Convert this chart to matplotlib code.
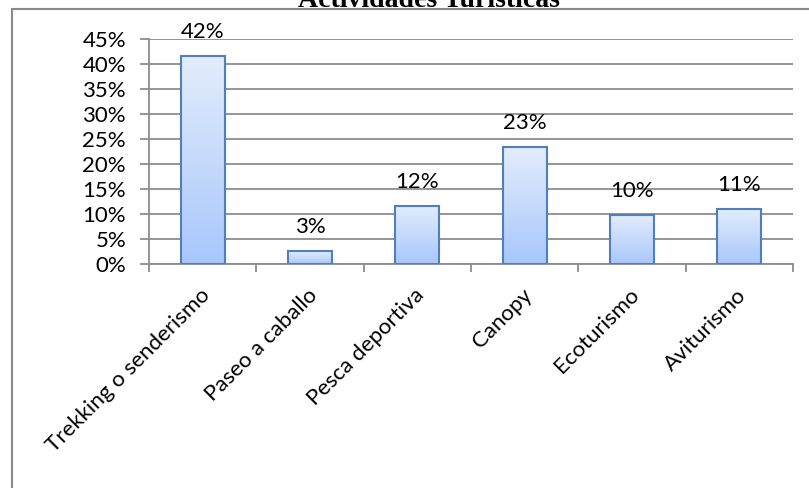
import numpy as np
import matplotlib
matplotlib.use('Agg')
import matplotlib.pyplot as plt
from matplotlib.patches import Rectangle
from matplotlib.colors import LinearSegmentedColormap

actividades = ['Trekking o senderismo', 'Paseo a caballo', 'Pesca deportiva',
               'Canopy', 'Ecoturismo', 'Aviturismo']
porcentajes = [41.6, 2.6, 11.6, 23.4, 9.8, 11.0]
etiquetas = ['42%', '3%', '12%', '23%', '10%', '11%']
yticks = [0, 5, 10, 15, 20, 25, 30, 35, 40, 45]

plt.rcParams['font.family'] = ['Lato', 'DejaVu Sans']

fig = plt.figure(figsize=(8.09, 4.88), dpi=100)
ax = fig.add_axes([149/809, 1-264/488, (793-149)/809, (264-39)/488])

x = np.arange(len(actividades))
barras = ax.bar(x, porcentajes, width=0.41, facecolor='none',
                edgecolor='#4f7fbf', linewidth=1.5, zorder=3)

# degradado dentro de cada barra
cmap = LinearSegmentedColormap.from_list('azul', ['#a8c7fb', '#e3edfd'])
grad = np.linspace(0, 1, 256).reshape(-1, 1)
for b in barras:
    x0, y0 = b.get_x(), b.get_y()
    w, h = b.get_width(), b.get_height()
    im = ax.imshow(grad, cmap=cmap, origin='lower', aspect='auto',
                   extent=[x0, x0 + w, y0, y0 + h], zorder=2)
    im.set_clip_path(b)

for xi, v, t in zip(x, porcentajes, etiquetas):
    ax.annotate(t, (xi, v), xytext=(0, 10), textcoords='offset points',
                ha='center', va='bottom', fontsize=16, clip_on=False)

ax.set_xlim(-0.5, len(actividades) - 0.5)
ax.set_ylim(0, 45)
ax.set_yticks(yticks)
ax.set_yticklabels([f'{t}%' for t in yticks], fontsize=16)
ax.yaxis.grid(True, color='#8c8c8c', linewidth=1.3)
ax.set_axisbelow(True)

ax.set_xticks(np.arange(len(actividades) + 1) - 0.5)
ax.set_xticklabels([])
ax.set_xticks(x - 0.03, minor=True)
ax.set_xticklabels(actividades, minor=True, rotation=45, ha='right', va='top',
                   rotation_mode='anchor', fontsize=16)
ax.tick_params(axis='x', which='minor', length=0, pad=15)
ax.tick_params(axis='x', which='major', length=6, color='#8c8c8c', width=1.3)
ax.tick_params(axis='y', length=6.5, color='#8c8c8c', width=1.3, pad=10)

for s in ['top', 'right']:
    ax.spines[s].set_visible(False)
for s in ['left', 'bottom']:
    ax.spines[s].set_color('#8c8c8c')
    ax.spines[s].set_linewidth(1.3)

# marco del grafico
fig.patches.append(Rectangle((12/809, -0.1), 1.0, 1.1 - 9/488, transform=fig.transFigure,
                             fill=False, edgecolor='#8a8a8a', linewidth=1.5))

fig.text(0.53, 1 - 7/488, 'Actividades Turísticas', ha='center', va='baseline',
         fontsize=20, fontweight='bold', family='Liberation Serif')

fig.savefig('out.png', dpi=100)
